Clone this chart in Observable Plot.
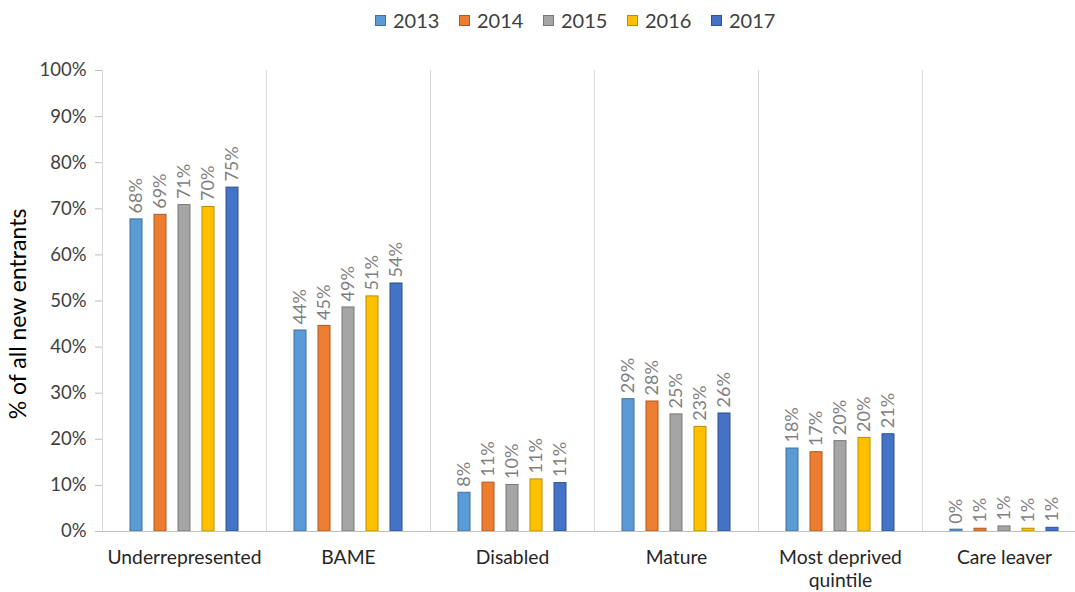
<!DOCTYPE html>
<html>
<head>
<meta charset="utf-8">
<script src="https://cdn.jsdelivr.net/npm/d3@7"></script>
<script src="https://cdn.jsdelivr.net/npm/@observablehq/plot@0.6"></script>
<style>
  html, body { margin: 0; padding: 0; background: #fff; }
  #wrap { position: relative; width: 1075px; height: 592px; font-family: Lato, "Open Sans", sans-serif; }
  #legend { position: absolute; top: 8px; left: 0; width: 1075px; height: 24px; }
  .item { position: absolute; top: 0; display: flex; align-items: center; height: 24px; font-size: 20px; color: #404040; }
  .sw { width: 11px; height: 11px; margin-right: 7px; box-sizing: border-box; border: 1px solid; }
</style>
</head>
<body>
<div id="wrap"><div id="legend"></div><div id="chart"></div></div>
<script>
const categories = ["Underrepresented", "BAME", "Disabled", "Mature", "Most deprived quintile", "Care leaver"];
const categoryLabels = ["Underrepresented", "BAME", "Disabled", "Mature", "Most deprived\nquintile", "Care leaver"];
const years = ["2013", "2014", "2015", "2016", "2017"];
const fills = ["#5B9BD5", "#ED7D31", "#A5A5A5", "#FFC000", "#4472C4"];
const strokes = ["#41719C", "#AE5A21", "#787878", "#BC8C00", "#2F528F"];
const v2013 = [67.7, 43.6, 8.4, 28.7, 18.0, 0.4];
const v2014 = [68.7, 44.6, 10.6, 28.2, 17.2, 0.6];
const v2015 = [70.8, 48.6, 10.1, 25.4, 19.6, 1.1];
const v2016 = [70.4, 51.0, 11.3, 22.7, 20.3, 0.6];
const v2017 = [74.6, 53.8, 10.5, 25.6, 21.1, 0.8];
const yTicks = [0, 10, 20, 30, 40, 50, 60, 70, 80, 90, 100];

const series = [v2013, v2014, v2015, v2016, v2017];
const rows = [];
series.forEach((vals, i) => vals.forEach((v, j) => rows.push({year: years[i], yi: i, category: categories[j], value: v})));

// legend
const legend = document.getElementById("legend");
years.forEach((y, i) => {
  const it = document.createElement("div");
  it.className = "item";
  it.style.left = (375 + i * 84) + "px";
  it.innerHTML = `<div class="sw" style="background:${fills[i]};border-color:${strokes[i]}"></div><span>${y}</span>`;
  legend.appendChild(it);
});

const step = 24, barW = 12;
const bandW = 164;
const inset = (bandW - barW) / 2;
const labelMap = new Map(categories.map((c, i) => [c, categoryLabels[i]]));

const marks = [];
// separators
marks.push(Plot.ruleX(categories, {x: d => d, dx: bandW / 2, y1: 0, y2: 100, stroke: "#d9d9d9", strokeWidth: 1}));
marks.push(Plot.ruleX([categories[0]], {x: d => d, dx: -bandW / 2, y1: 0, y2: 100, stroke: "#d9d9d9", strokeWidth: 1}));
years.forEach((yr, i) => {
  const data = rows.filter(r => r.yi === i);
  const off = (i - 2) * step;
  marks.push(Plot.barY(data, {x: "category", y: "value", dx: off, insetLeft: inset, insetRight: inset,
    fill: fills[i], stroke: strokes[i], strokeWidth: 1}));
  marks.push(Plot.text(data, {x: "category", y: "value", dx: off, dy: -6, text: d => Math.round(d.value) + "%",
    rotate: -90, textAnchor: "start", fill: "#7f7f7f", fontSize: 18, lineAnchor: "middle"}));
});
marks.push(Plot.ruleY([0], {stroke: "#bfbfbf", strokeWidth: 1}));
marks.push(Plot.axisY({ticks: yTicks, tickFormat: d => d + "%", tickSize: 7, tickPadding: 9, stroke: "#bfbfbf",
  fill: "#404040", fontSize: 18.5, label: null}));
marks.push(Plot.axisX({tickSize: 0, tickPadding: 16, tickFormat: d => labelMap.get(d), fill: "#262626",
  fontSize: 19.3, lineHeight: 1.2, label: null}));
marks.push(Plot.text(["% of all new entrants"], {frameAnchor: "left", textAnchor: "middle", dx: -84, dy: 13, rotate: -90, fontSize: 23, fill: "#000", text: d => d}));

const chart = Plot.plot({
  width: 1075,
  height: 592,
  marginTop: 70,
  marginBottom: 61,
  marginLeft: 102,
  marginRight: 0,
  style: {fontFamily: "Lato, 'Open Sans', sans-serif", background: "transparent", overflow: "visible"},
  x: {domain: categories, range: [102, 1086], padding: 0, axis: null},
  y: {domain: [0, 100], axis: null},
  marks
});
document.getElementById("chart").appendChild(chart);
</script>
</body>
</html>
